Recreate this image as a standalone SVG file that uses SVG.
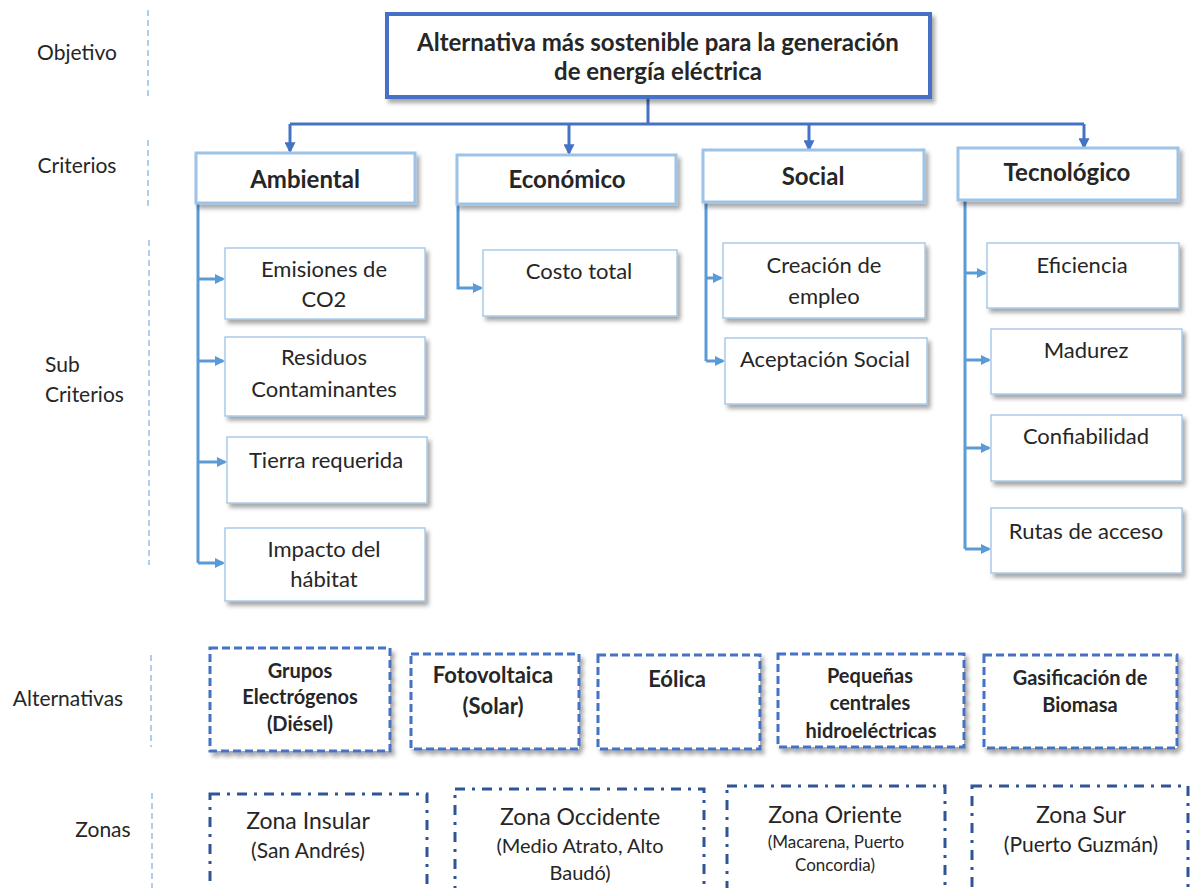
<svg xmlns="http://www.w3.org/2000/svg" width="1196" height="888" viewBox="0 0 1196 888">
<defs>
<filter id="sh" x="-10%" y="-10%" width="130%" height="140%">
<feDropShadow dx="3" dy="4" stdDeviation="2" flood-color="#000" flood-opacity="0.35"/>
</filter>
<marker id="ah1" viewBox="0 0 10 10" refX="8" refY="5" markerWidth="11" markerHeight="11" markerUnits="userSpaceOnUse" orient="auto">
<path d="M0,0 L10,5 L0,10 z" fill="#4472C4"/>
</marker>
<marker id="ah2" viewBox="0 0 10 10" refX="8" refY="5" markerWidth="10" markerHeight="10" markerUnits="userSpaceOnUse" orient="auto">
<path d="M0,0 L10,5 L0,10 z" fill="#5B9BD5"/>
</marker>
</defs>
<style>
text{font-family:Lato,"Liberation Sans",sans-serif;fill:#262626;text-anchor:middle}
.lbl{font-size:21px}
.goal{font-size:24px;font-weight:bold}
.crit{font-size:24px;font-weight:bold}
.sub{font-size:22px}
.alt{font-size:20px;font-weight:bold}
.zt{font-size:23px}
.zs{font-size:21px}
.goalbox{fill:#fff;stroke:#4472C4;stroke-width:4}
.critbox{fill:#fff;stroke:#9DC3E6;stroke-width:3}
.subbox{fill:#fff;stroke:#9DC3E6;stroke-width:1.3}
.altbox{fill:#fff;stroke:#4472C4;stroke-width:3;stroke-dasharray:8 4}
.zonebox{fill:none;stroke:#2F5597;stroke-width:3;stroke-dasharray:10 7 3 7}
.guide{stroke:#9DC3E6;stroke-width:1.6;stroke-dasharray:6 4;fill:none}
.c1{fill:none;stroke:#4472C4;stroke-width:3}
.c2{fill:none;stroke:#5B9BD5;stroke-width:3}
</style>
<rect width="1196" height="888" fill="#fff"/>

<g id="levels">
<path class="guide" d="M148,10 V100 M148,140 V210 M149,240 V565 M151,655 V747 M152,793 V888"/>
<text class="lbl" x="77" y="60">Objetivo</text>
<text class="lbl" x="77" y="173">Criterios</text>
<text class="lbl" x="45" y="372" style="text-anchor:start">Sub</text>
<text class="lbl" x="45" y="402" style="text-anchor:start">Criterios</text>
<text class="lbl" x="68" y="706">Alternativas</text>
<text class="lbl" x="103" y="837">Zonas</text>
</g>

<g id="connectors">
<path class="c1" d="M648,97 V124 M290,124 H1084"/>
<path class="c1" d="M290,124 V151" marker-end="url(#ah1)"/>
<path class="c1" d="M569,124 V153" marker-end="url(#ah1)"/>
<path class="c1" d="M809,124 V149" marker-end="url(#ah1)"/>
<path class="c1" d="M1084,124 V147" marker-end="url(#ah1)"/>
<path class="c2" d="M198,203 V563"/>
<path class="c2" d="M198,279 H223" marker-end="url(#ah2)"/>
<path class="c2" d="M198,361 H223" marker-end="url(#ah2)"/>
<path class="c2" d="M198,462 H225" marker-end="url(#ah2)"/>
<path class="c2" d="M198,563 H223" marker-end="url(#ah2)"/>
<path class="c2" d="M458,204 V288 H481" marker-end="url(#ah2)"/>
<path class="c2" d="M706,202 V361"/>
<path class="c2" d="M706,278 H721" marker-end="url(#ah2)"/>
<path class="c2" d="M706,361 H723" marker-end="url(#ah2)"/>
<path class="c2" d="M965,200 V549"/>
<path class="c2" d="M965,273 H985" marker-end="url(#ah2)"/>
<path class="c2" d="M965,360 H989" marker-end="url(#ah2)"/>
<path class="c2" d="M965,448 H989" marker-end="url(#ah2)"/>
<path class="c2" d="M965,549 H989" marker-end="url(#ah2)"/>
</g>

<g id="goal">
<rect class="goalbox" x="387" y="14" width="543" height="83" filter="url(#sh)"/>
<text class="goal" x="658" y="51">Alternativa más sostenible para la generación</text>
<text class="goal" x="658" y="80">de energía eléctrica</text>
</g>

<g id="crit-ambiental">
<rect class="critbox" x="196" y="153" width="219" height="50" filter="url(#sh)"/>
<text class="crit" x="305" y="188">Ambiental</text>
</g>
<g id="crit-economico">
<rect class="critbox" x="457" y="155" width="219" height="49" filter="url(#sh)"/>
<text class="crit" x="567" y="188">Económico</text>
</g>
<g id="crit-social">
<rect class="critbox" x="703" y="150" width="221" height="52" filter="url(#sh)"/>
<text class="crit" x="813" y="185">Social</text>
</g>
<g id="crit-tecnologico">
<rect class="critbox" x="958" y="148" width="220" height="52" filter="url(#sh)"/>
<text class="crit" x="1067" y="181">Tecnológico</text>
</g>

<g id="sub-emisiones">
<rect class="subbox" x="225" y="248" width="200" height="71" filter="url(#sh)"/>
<text class="sub" x="324" y="277">Emisiones de</text>
<text class="sub" x="324" y="307">CO2</text>
</g>
<g id="sub-residuos">
<rect class="subbox" x="225" y="337" width="200" height="79" filter="url(#sh)"/>
<text class="sub" x="324" y="365">Residuos</text>
<text class="sub" x="324" y="397">Contaminantes</text>
</g>
<g id="sub-tierra">
<rect class="subbox" x="227" y="437" width="200" height="66" filter="url(#sh)"/>
<text class="sub" x="326" y="468">Tierra requerida</text>
</g>
<g id="sub-impacto">
<rect class="subbox" x="225" y="528" width="200" height="73" filter="url(#sh)"/>
<text class="sub" x="324" y="557">Impacto del</text>
<text class="sub" x="324" y="587">hábitat</text>
</g>
<g id="sub-costo">
<rect class="subbox" x="483" y="250" width="194" height="66" filter="url(#sh)"/>
<text class="sub" x="579" y="279">Costo total</text>
</g>
<g id="sub-creacion">
<rect class="subbox" x="723" y="243" width="202" height="75" filter="url(#sh)"/>
<text class="sub" x="824" y="273">Creación de</text>
<text class="sub" x="824" y="304">empleo</text>
</g>
<g id="sub-aceptacion">
<rect class="subbox" x="725" y="338" width="202" height="66" filter="url(#sh)"/>
<text class="sub" x="825" y="367">Aceptación Social</text>
</g>
<g id="sub-eficiencia">
<rect class="subbox" x="987" y="243" width="192" height="65" filter="url(#sh)"/>
<text class="sub" x="1082" y="273">Eficiencia</text>
</g>
<g id="sub-madurez">
<rect class="subbox" x="991" y="329" width="191" height="65" filter="url(#sh)"/>
<text class="sub" x="1086" y="358">Madurez</text>
</g>
<g id="sub-confiabilidad">
<rect class="subbox" x="991" y="415" width="191" height="66" filter="url(#sh)"/>
<text class="sub" x="1086" y="444">Confiabilidad</text>
</g>
<g id="sub-rutas">
<rect class="subbox" x="991" y="508" width="191" height="65" filter="url(#sh)"/>
<text class="sub" x="1086" y="539">Rutas de acceso</text>
</g>

<g id="alt-grupos">
<rect class="altbox" x="210" y="648" width="180" height="103" filter="url(#sh)"/>
<text class="alt" x="300" y="678">Grupos</text>
<text class="alt" x="300" y="704">Electrógenos</text>
<text class="alt" x="300" y="731">(Diésel)</text>
</g>
<g id="alt-fotovoltaica">
<rect class="altbox" x="411" y="654" width="168" height="95" filter="url(#sh)"/>
<text class="alt" x="493" y="683" style="font-size:22px">Fotovoltaica</text>
<text class="alt" x="493" y="714" style="font-size:22px">(Solar)</text>
</g>
<g id="alt-eolica">
<rect class="altbox" x="598" y="655" width="162" height="94" filter="url(#sh)"/>
<text class="alt" x="677" y="687" style="font-size:22px">Eólica</text>
</g>
<g id="alt-pch">
<rect class="altbox" x="778" y="654" width="186" height="93" filter="url(#sh)"/>
<text class="alt" x="870" y="683">Pequeñas</text>
<text class="alt" x="870" y="710">centrales</text>
<text class="alt" x="871" y="738">hidroeléctricas</text>
</g>
<g id="alt-biomasa">
<rect class="altbox" x="984" y="655" width="193" height="93" filter="url(#sh)"/>
<text class="alt" x="1080" y="685">Gasificación de</text>
<text class="alt" x="1080" y="712">Biomasa</text>
</g>

<g id="zone-insular">
<rect class="zonebox" x="210" y="794" width="217" height="110"/>
<text class="zt" x="308" y="829">Zona Insular</text>
<text class="zs" x="308" y="858">(San Andrés)</text>
</g>
<g id="zone-occidente">
<rect class="zonebox" x="455" y="789" width="249" height="115"/>
<text class="zt" x="580" y="825">Zona Occidente</text>
<text class="zs" x="580" y="853" style="font-size:20px">(Medio Atrato, Alto</text>
<text class="zs" x="580" y="880" style="font-size:20px">Baudó)</text>
</g>
<g id="zone-oriente">
<rect class="zonebox" x="727" y="786" width="218" height="118"/>
<text class="zt" x="835" y="823">Zona Oriente</text>
<text class="zs" x="836" y="848" style="font-size:17px">(Macarena, Puerto</text>
<text class="zs" x="835" y="871" style="font-size:17px">Concordia)</text>
</g>
<g id="zone-sur">
<rect class="zonebox" x="972" y="786" width="216" height="118"/>
<text class="zt" x="1081" y="823">Zona Sur</text>
<text class="zs" x="1081" y="852">(Puerto Guzmán)</text>
</g>
</svg>
